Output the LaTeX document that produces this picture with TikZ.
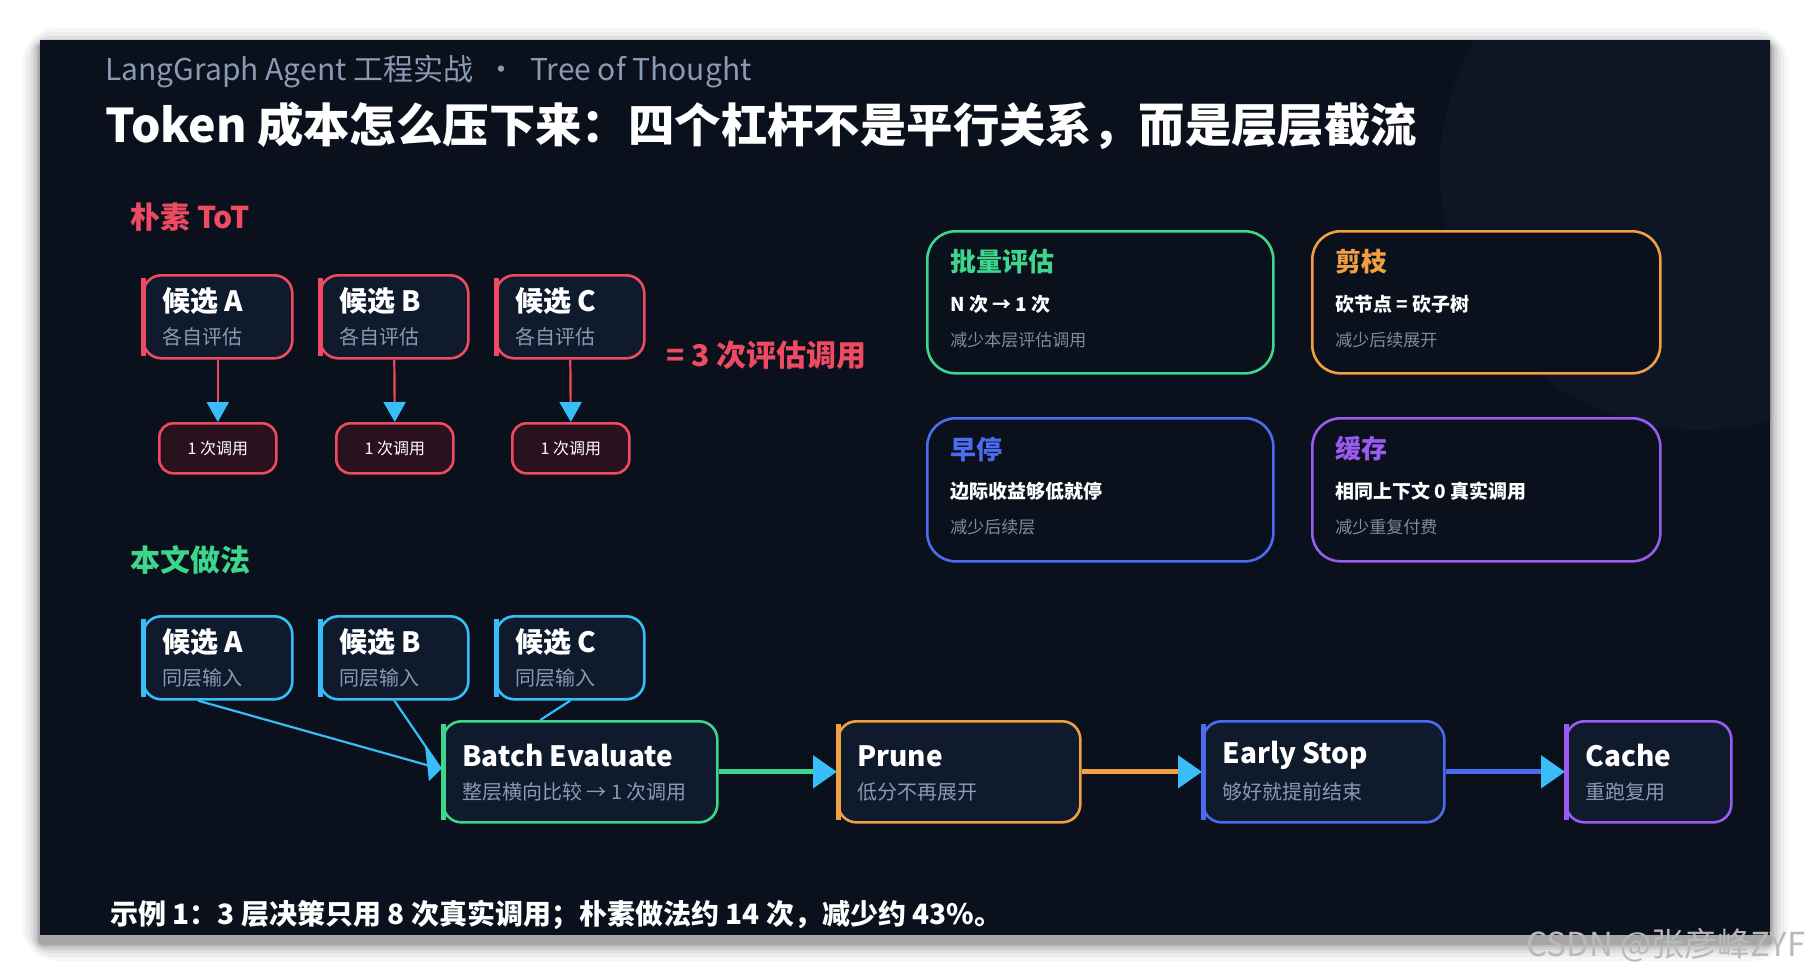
\documentclass[tikz,border=0pt]{standalone}
\usepackage{fontspec}
\setmainfont{Noto Sans CJK SC}
\usetikzlibrary{arrows.meta}
\definecolor{bg}{HTML}{0A101C}
\definecolor{glow}{HTML}{0E1626}
\definecolor{boxf}{HTML}{0F1A2C}
\definecolor{cred}{HTML}{EE4B63}
\definecolor{redf}{HTML}{2A111E}
\definecolor{ccyan}{HTML}{38BDF8}
\definecolor{cgreen}{HTML}{3DD68C}
\definecolor{corange}{HTML}{F0A040}
\definecolor{cblue}{HTML}{4A6CF0}
\definecolor{cpurple}{HTML}{9A5CF0}
\definecolor{sub}{HTML}{8A9AB2}
\definecolor{subt}{HTML}{7F8CA0}
\tikzset{
  box/.style={draw=#1, line width=1.3pt, rounded corners=9pt, fill=boxf, inner sep=0pt, anchor=north west},
  card/.style={draw=#1, line width=1.3pt, rounded corners=14pt, fill=bg, inner sep=0pt, anchor=north west},
  bar/.style={line width=2.6pt, draw=#1},
  ttl/.style={text=white, font=\fontsize{14}{16}\selectfont\bfseries, anchor=west, inner sep=0pt},
  sbt/.style={text=sub, font=\fontsize{10}{12}\selectfont, anchor=west, inner sep=0pt},
  link/.style={line width=1.1pt},
  tip/.style={-{Triangle[length=10pt,width=11pt,fill=ccyan,color=ccyan]}},
  bigtip/.style={-{Triangle[length=12pt,width=16pt,fill=ccyan,color=ccyan]}},
}
\newcommand{\cbox}[8]{% name x1 y1 x2 y2 color title sub
  \node[box=#6, minimum width={(#4-#2)*0.5pt}, minimum height={(#5-#3)*0.5pt}] (#1) at (#2,#3) {};
  \draw[bar=#6] ([xshift=0.8pt,yshift=-2pt]#1.north west) -- ([xshift=0.8pt,yshift=2pt]#1.south west);
  \node[ttl] (#1t) at ([xshift=10pt,yshift=8pt]#1.west) {#7};
  \node[sbt] (#1s) at ([xshift=10pt,yshift=-10pt]#1.west) {#8};
}
\newcommand{\fcard}[8]{% name x1 y1 x2 y2 color title line2
  \node[card=#6, minimum width={(#4-#2)*0.5pt}, minimum height={(#5-#3)*0.5pt}] (#1) at (#2,#3) {};
  \node[text=#6, font=\fontsize{13}{15}\selectfont\bfseries, anchor=west, inner sep=0pt] (#1t) at ([xshift=12pt,yshift=-16pt]#1.north west) {#7};
  \node[text=white, font=\fontsize{9.5}{12}\selectfont\bfseries, anchor=west, inner sep=0pt] (#1m) at ([xshift=12pt,yshift=-37pt]#1.north west) {#8};
}
\begin{document}
\begin{tikzpicture}[x=0.5pt,y=-0.5pt]
\useasboundingbox (0,0) rectangle (1810,976);
\fill[white] (0,0) rectangle (1810,976);
\foreach \i/\o in {18/0.03,14/0.04,10/0.05,7/0.07,4/0.09,2/0.12}
  \fill[black,opacity=\o,rounded corners=\i pt] (40-\i,40-\i+6) rectangle (1770+\i,935+\i+8);
\fill[bg] (40,40) rectangle (1770,935);
\begin{scope}
\clip (40,40) rectangle (1770,935);
\fill[glow] (1700,170) circle (260);
\end{scope}
% titles
\node[text=sub, font=\fontsize{15}{18}\selectfont, anchor=west, inner sep=0pt] (sup) at (105,72) {LangGraph Agent 工程实战 \ •\ \ Tree of Thought};
\node[text=white, font=\fontsize{23.2}{27}\selectfont\bfseries, anchor=west, inner sep=0pt] (ttl) at (105,126) {Token 成本怎么压下来：四个杠杆不是平行关系，而是层层截流};
\node[text=cred, font=\fontsize{15}{18}\selectfont\bfseries, anchor=west, inner sep=0pt] (naive) at (130,217) {朴素 ToT};
\node[text=cgreen, font=\fontsize{15}{18}\selectfont\bfseries, anchor=west, inner sep=0pt] (ours) at (130,560) {本文做法};
% naive
\cbox{na}{142}{274}{291}{357}{cred}{候选 A}{各自评估}
\cbox{nb}{319}{274}{467}{357}{cred}{候选 B}{各自评估}
\cbox{nc}{495}{274}{643}{357}{cred}{候选 C}{各自评估}
\foreach \n/\x in {ca/158,cb/335,cc/511}{
  \node[draw=cred, line width=1.3pt, rounded corners=7pt, fill=redf, minimum width=58.5pt, minimum height=25pt, anchor=north west, text=white, font=\fontsize{8}{10}\selectfont] (\n) at (\x,422) {1 次调用};
}
\foreach \a/\b in {na/ca,nb/cb,nc/cc}
  \draw[link, draw=cred, tip] (\a.south) -- (\b.north);
\node[text=cred, font=\fontsize{15}{18}\selectfont\bfseries, anchor=west, inner sep=0pt] (eq) at (666,355) {= 3 次评估调用};
% cards
\fcard{k1}{926}{230}{1272}{372}{cgreen}{批量评估}{N 次 → 1 次}
\node[sbt, font=\fontsize{8.5}{10}\selectfont, text=subt] at ([xshift=12pt,yshift=-55pt]k1.north west) {减少本层评估调用};
\fcard{k2}{1311}{230}{1659}{372}{corange}{剪枝}{砍节点 = 砍子树}
\node[sbt, font=\fontsize{8.5}{10}\selectfont, text=subt] at ([xshift=12pt,yshift=-55pt]k2.north west) {减少后续展开};
\fcard{k3}{926}{417}{1272}{560}{cblue}{早停}{边际收益够低就停}
\node[sbt, font=\fontsize{8.5}{10}\selectfont, text=subt] at ([xshift=12pt,yshift=-55pt]k3.north west) {减少后续层};
\fcard{k4}{1311}{417}{1659}{560}{cpurple}{缓存}{相同上下文 0 真实调用}
\node[sbt, font=\fontsize{8.5}{10}\selectfont, text=subt] at ([xshift=12pt,yshift=-55pt]k4.north west) {减少重复付费};
% ours
\cbox{oa}{142}{615}{291}{698}{ccyan}{候选 A}{同层输入}
\cbox{ob}{319}{615}{467}{698}{ccyan}{候选 B}{同层输入}
\cbox{oc}{495}{615}{643}{698}{ccyan}{候选 C}{同层输入}
\cbox{be}{442}{720}{716}{821}{cgreen}{Batch Evaluate}{整层横向比较 → 1 次调用}
\cbox{pr}{837}{720}{1079}{821}{corange}{Prune}{低分不再展开}
\cbox{es}{1202}{720}{1443}{821}{cblue}{Early Stop}{够好就提前结束}
\cbox{cc2}{1565}{720}{1730}{821}{cpurple}{Cache}{重跑复用}
\coordinate (bin) at (441,769);
\draw[link, draw=ccyan] ([xshift=-10pt]oa.south) -- (bin);
\draw[link, draw=ccyan] (ob.south) -- (bin);
\draw[link, draw=ccyan] (oc.south) -- ([xshift=-20pt]be.north);
\fill[ccyan] (bin) -- ++(-16,-22) -- ++(4,34) -- cycle;
\draw[line width=2.6pt, draw=cgreen, bigtip] (be.east) -- (pr.west);
\draw[line width=2.6pt, draw=corange, bigtip] (pr.east) -- (es.west);
\draw[line width=2.6pt, draw=cblue, bigtip] (es.east) -- (cc2.west);
% footer
\node[text=white, font=\fontsize{14}{17}\selectfont\bfseries, anchor=west, inner sep=0pt] (foot) at (110,915) {示例 1：3 层决策只用 8 次真实调用；朴素做法约 14 次，减少约 43\%。};
\node[text=gray!55, font=\fontsize{16.5}{19}\selectfont, anchor=east, inner sep=0pt] (wm) at (1806,945) {CSDN @张彦峰ZYF};
\end{tikzpicture}
\end{document}
